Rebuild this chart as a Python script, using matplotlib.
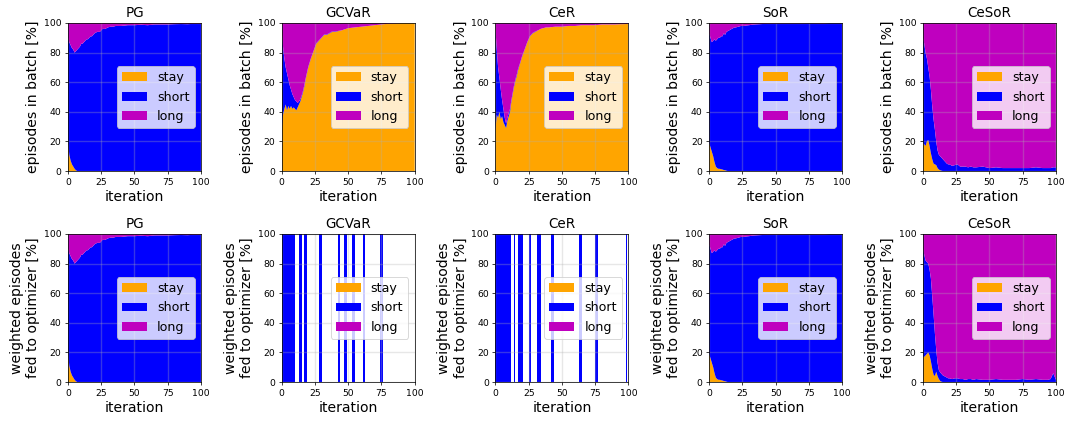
import numpy as np
import matplotlib
matplotlib.use("Agg")
import matplotlib.pyplot as plt

iters = list(range(21)) + list(range(22, 41, 2)) + list(range(45, 91, 5)) + [94, 96, 98, 100]
labels = ["stay", "short", "long"]
colors = ["orange", "b", "m"]

# ---- episodes in batch [%] ----
pg_stay = [20, 11, 7, 4.5, 3, 1.5, 0.5, 0, 0, 0, 0, 0, 0, 0, 0, 0, 0, 0, 0, 0, 0,
           0, 0, 0, 0, 0, 0, 0, 0, 0, 0,
           0, 0, 0, 0, 0, 0, 0, 0, 0, 0,
           0, 0, 0, 0]
pg_short = [70, 76, 78, 78.5, 79, 78.5, 80.5, 82, 83, 84, 86, 86, 87, 88, 89, 89, 90, 91, 91, 92, 93,
            94, 94, 96, 96, 97, 97.5, 97.5, 98, 98, 98,
            98.5, 98.5, 98.8, 98.5, 99, 99, 99, 99.2, 99.3, 99.2,
            99.4, 99.4, 99.5, 99.4]
pg_long = [10, 13, 15, 17, 18, 20, 19, 18, 17, 16, 14, 14, 13, 12, 11, 11, 10, 9, 9, 8, 7,
           6, 6, 4, 4, 3, 2.5, 2.5, 2, 2, 2,
           1.5, 1.5, 1.2, 1.5, 1, 1, 1, 0.8, 0.7, 0.8,
           0.6, 0.6, 0.5, 0.6]

gcvar_stay = [28, 38, 42, 45, 41, 44, 42, 44, 42, 43, 42, 41, 43, 45, 47, 50, 53, 57, 62, 66, 70,
              76, 81, 86, 88, 90, 92, 92, 93, 94, 94,
              95, 96.5, 97, 97.5, 98, 98.5, 99, 99.5, 99.7, 100,
              100, 100, 100, 100]
gcvar_short = [66, 46, 34, 25, 25, 18, 16, 11, 10, 7, 6, 6, 3, 2, 1.5, 1, 1, 1, 0.5, 0.5, 0.5,
               0.3, 0.3, 0.3, 0.3, 0.3, 0.3, 0.3, 0.3, 0.3, 0.3,
               0, 0, 0, 0, 0, 0, 0, 0, 0, 0,
               0, 0, 0, 0]
gcvar_long = [6, 16, 24, 30, 34, 38, 42, 45, 48, 50, 52, 53, 54, 53, 51.5, 49, 46, 42, 37.5, 33.5, 29.5,
              23.7, 18.7, 13.7, 11.7, 9.7, 7.7, 7.7, 6.7, 5.7, 5.7,
              5, 3.5, 3, 2.5, 2, 1.5, 1, 0.5, 0.3, 0,
              0, 0, 0, 0]

cer_stay = [28, 38, 36, 40, 35, 37, 33, 31, 29, 34, 37, 40, 47, 52, 57, 61, 64, 68, 71, 74, 77,
            82, 87, 91, 93, 94, 95, 96, 96.5, 97, 97,
            97.5, 97.5, 98, 98, 98.5, 98.5, 98.5, 99, 99, 99,
            99.2, 99.2, 99.3, 99.3]
cer_short = [68, 44, 34, 23, 20, 11, 9, 5, 3, 2, 2, 2, 1, 1, 1, 1, 1, 1, 0.5, 0.5, 0.5,
             0.3, 0.3, 0.3, 0.3, 0.3, 0, 0, 0, 0, 0,
             0, 0, 0, 0, 0, 0, 0, 0, 0, 0,
             0, 0, 0, 0]
cer_long = [4, 18, 30, 37, 45, 52, 58, 64, 68, 64, 61, 58, 52, 47, 42, 38, 35, 31, 28.5, 25.5, 22.5,
            17.7, 12.7, 8.7, 6.7, 5.7, 5, 4, 3.5, 3, 3,
            2.5, 2.5, 2, 2, 1.5, 1.5, 1.5, 1, 1, 1,
            0.8, 0.8, 0.7, 0.7]

sor_stay = [19, 16, 13, 10, 6, 3, 2, 1.5, 1.5, 1.2, 1, 0.7, 0.5, 0.2, 0, 0, 0, 0, 0, 0, 0,
            0, 0, 0, 0, 0, 0, 0, 0, 0, 0,
            0, 0, 0, 0, 0, 0, 0, 0, 0, 0,
            0, 0, 0, 0]
sor_short = [74, 74, 74, 78, 83, 85, 87, 88.5, 88.5, 89.8, 90, 92.3, 91.5, 93.8, 94.5, 95, 95.5, 96, 96.5, 97, 97,
             97.5, 98, 98, 98.3, 98.5, 98.8, 99, 99.1, 99.2, 99.3,
             99.5, 99.6, 99.7, 99.7, 99.7, 99.7, 99.8, 99.7, 99.5, 99.9,
             99.9, 99.9, 99.9, 99.9]
sor_long = [7, 10, 13, 12, 11, 12, 11, 10, 10, 9, 9, 7, 8, 6, 5.5, 5, 4.5, 4, 3.5, 3, 3,
            2.5, 2, 2, 1.7, 1.5, 1.2, 1, 0.9, 0.8, 0.7,
            0.5, 0.4, 0.3, 0.3, 0.3, 0.3, 0.2, 0.3, 0.5, 0.1,
            0.1, 0.1, 0.1, 0.1]

cesor_stay = [19, 18, 17, 20, 21, 17, 12, 8, 5, 4.5, 4, 2, 1, 0.5, 0.2, 0, 0, 0, 0, 0, 0,
              0, 0, 0, 0, 0, 0, 0, 0, 0, 0,
              0, 0, 0, 0, 0, 0, 0, 0, 0, 0,
              0, 0, 0, 0]
cesor_short = [71, 68, 63, 56, 49, 47, 43, 36, 30, 23.5, 16, 12, 10, 9.5, 8.8, 8, 7, 6, 5, 4.5, 4.5,
               3.5, 4, 4.5, 3, 3, 3, 2.5, 3, 2.5, 2.5,
               3, 2, 2.5, 2, 2, 2, 2, 2, 2.5, 2,
               2, 2, 2.5, 2.5]
cesor_long = [10, 14, 20, 24, 30, 36, 45, 56, 65, 72, 80, 86, 89, 90, 91, 92, 93, 94, 95, 95.5, 95.5,
              96.5, 96, 95.5, 97, 97, 97, 97.5, 97, 97.5, 97.5,
              97, 98, 97.5, 98, 98, 98, 98, 98, 97.5, 98,
              98, 98, 97.5, 97.5]

# ---- weighted episodes fed to optimizer [%] ----
# GCVaR / CeR: only a few iterations had non-zero weights (all on "short"),
# the fractions are undefined (nan) in the other iterations
gcvar_w_iters = list(range(0, 11)) + [13, 14, 15, 17, 18, 19, 28, 29, 30, 42, 43, 44,
                                      47, 48, 49, 53, 54, 55, 61, 62, 63, 74, 75, 76]
cer_w_iters = list(range(0, 13)) + [14, 15, 17, 18, 19, 20, 21, 25, 26, 27,
                                    31, 32, 33, 34, 42, 43, 44, 63, 64, 65,
                                    75, 76, 77, 98, 99]
w_short_value = 100

cesor_w_stay = [17, 17, 18, 19, 20, 18, 14, 9, 5, 4, 7, 4, 2, 0.7, 0.2, 0, 0, 0, 0, 0, 0,
                0, 0, 0, 0, 0, 0, 0, 0, 0, 0,
                0, 0, 0, 0, 0, 0, 0, 0, 0, 0,
                0, 0, 0, 0]
cesor_w_short = [73, 69, 64, 62, 60, 58, 56, 49, 41, 29, 15, 9, 6, 5.8, 5.3, 4.5, 4, 3.5, 3, 2.5, 2.5,
                 2, 2.5, 2.5, 2, 2, 1.5, 2, 2, 1.5, 2,
                 1.5, 1.5, 2, 1.5, 1.5, 1.5, 2, 1.5, 2, 1.5,
                 1.5, 2, 6, 1.5]
cesor_w_long = [10, 14, 18, 19, 20, 24, 30, 42, 54, 67, 78, 87, 92, 93.5, 94.5, 95.5, 96, 96.5, 97, 97.5, 97.5,
                98, 97.5, 97.5, 98, 98, 98.5, 98, 98, 98.5, 98,
                98.5, 98.5, 98, 98.5, 98.5, 98.5, 98, 98.5, 98, 98.5,
                98.5, 98, 94, 98.5]


def sparse_weights(valid):
    x = np.arange(101)
    short = np.full(101, np.nan)
    short[valid] = w_short_value
    zero = np.where(np.isnan(short), np.nan, 0.0)
    return x, zero, short, zero


titles = ["PG", "GCVaR", "CeR", "SoR", "CeSoR"]
top = [(iters, pg_stay, pg_short, pg_long),
       (iters, gcvar_stay, gcvar_short, gcvar_long),
       (iters, cer_stay, cer_short, cer_long),
       (iters, sor_stay, sor_short, sor_long),
       (iters, cesor_stay, cesor_short, cesor_long)]
bottom = [(iters, pg_stay, pg_short, pg_long),
          sparse_weights(gcvar_w_iters),
          sparse_weights(cer_w_iters),
          (iters, sor_stay, sor_short, sor_long),
          (iters, cesor_w_stay, cesor_w_short, cesor_w_long)]

fig, axs = plt.subplots(2, 5, figsize=(16, 6.3284), dpi=67)
plt.subplots_adjust(left=0.0634, right=0.985, top=0.9458, bottom=0.099,
                    wspace=0.607, hspace=0.425)

for row, data in enumerate([top, bottom]):
    for j, (x, s1, s2, s3) in enumerate(data):
        ax = axs[row, j]
        ax.stackplot(x, s1, s2, s3, labels=labels, colors=colors)
        ax.set_xlim(0, 100)
        ax.set_ylim(0, 100)
        ax.set_xticks([0, 25, 50, 75, 100])
        ax.set_yticks([0, 20, 40, 60, 80, 100])
        ax.grid(True, alpha=0.3, linewidth=1.5)
        ax.set_title(titles[j], fontsize=14.5)
        ax.set_xlabel("iteration", fontsize=15)
        if row == 0:
            ax.set_ylabel("episodes in batch [%]", fontsize=15)
        else:
            ax.set_ylabel("weighted episodes\nfed to optimizer [%]", fontsize=15)
        ax.legend(loc="center right", fontsize=13.5)

plt.savefig("out.png", dpi=67)
